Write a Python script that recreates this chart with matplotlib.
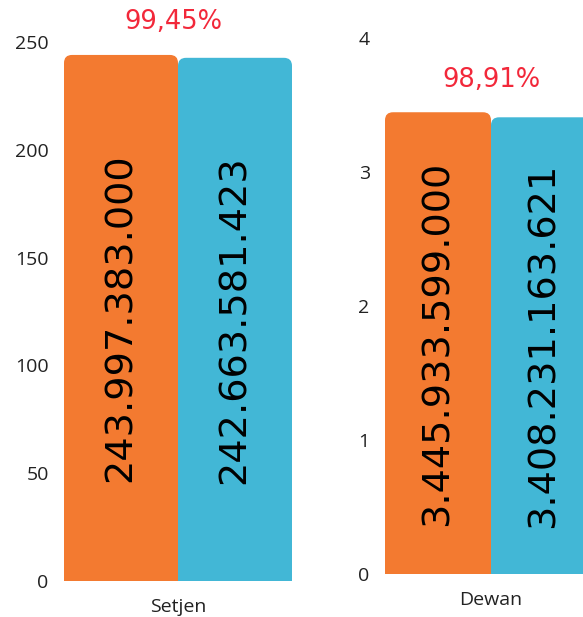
import matplotlib.pyplot as plt
from matplotlib.patches import FancyBboxPatch

# data (left panel in billions, right panel in trillions)
groups = ['Setjen', 'Dewan']
pagu = [243.997383000, 3.445933599]
realisasi = [242.663581423, 3.408231163621]
pagu_labels = ['243.997.383.000', '3.445.933.599.000']
real_labels = ['242.663.581.423', '3.408.231.163.621']
persen = ['99,45%', '98,91%']
yticks = [[0, 50, 100, 150, 200, 250], [0, 1, 2, 3, 4]]

orange = '#F37A30'
blue = '#42B7D6'
red = '#F2283A'

fig = plt.figure(figsize=(5.83, 6.17), dpi=100)
W, H = 583, 617

# axes positions in pixels: (left, bottom, width, height)
boxes = [(64, 36, 228, 539), (385, 43, 212, 536)]
ylims = [(0, 250), (0, 4)]


def rounded_bars(ax, bars, radius_px=8):
    # swap the plain bars for ones with rounded top corners
    fig.canvas.draw()
    bb = ax.get_window_extent()
    x0, x1 = ax.get_xlim()
    y0, y1 = ax.get_ylim()
    xu = (x1 - x0) / bb.width
    yu = (y1 - y0) / bb.height
    aspect = yu / xu
    for b in bars:
        x, w, h = b.get_x(), b.get_width(), b.get_height()
        c = b.get_facecolor()
        b.remove()
        pad = radius_px * yu * 2
        p = FancyBboxPatch((x, -pad), w, h + pad,
                           boxstyle='round,pad=0,rounding_size=%f' % (radius_px * xu),
                           mutation_aspect=aspect, facecolor=c, edgecolor='none',
                           linewidth=0)
        ax.add_patch(p)


for i in range(2):
    l, b, w, h = boxes[i]
    ax = fig.add_axes([l / W, b / H, w / W, h / H])
    bars = ax.bar([-0.5, 0.5], [pagu[i], realisasi[i]], width=1.0,
                  color=[orange, blue])
    ax.set_xlim(-1, 1)
    ax.set_ylim(*ylims[i])
    rounded_bars(ax, bars)

    for x, v, s in [(-0.5, pagu[i], pagu_labels[i]), (0.5, realisasi[i], real_labels[i])]:
        ax.text(x, v / 2, s, rotation=90, ha='center', va='center',
                fontsize=27.5, color='black', family='DejaVu Sans')

    ax.annotate(persen[i], xy=(0, pagu[i]), xytext=(-3 if i == 0 else 0, 23.5),
                textcoords='offset points', ha='center', va='center',
                fontsize=18.5, color=red, family='DejaVu Sans', annotation_clip=False)

    ax.set_yticks(yticks[i])
    ax.set_yticklabels([str(t) for t in yticks[i]], family='Open Sans',
                       fontsize=14, color='#222222')
    ax.set_xticks([0])
    ax.set_xticklabels([groups[i]], family='Open Sans', fontsize=14, color='#222222')
    ax.tick_params(length=0, axis='y', pad=11)
    ax.tick_params(length=0, axis='x', pad=12)
    for sp in ax.spines.values():
        sp.set_visible(False)
    ax.set_facecolor('none')

fig.savefig('out.png', dpi=100, facecolor='white')
